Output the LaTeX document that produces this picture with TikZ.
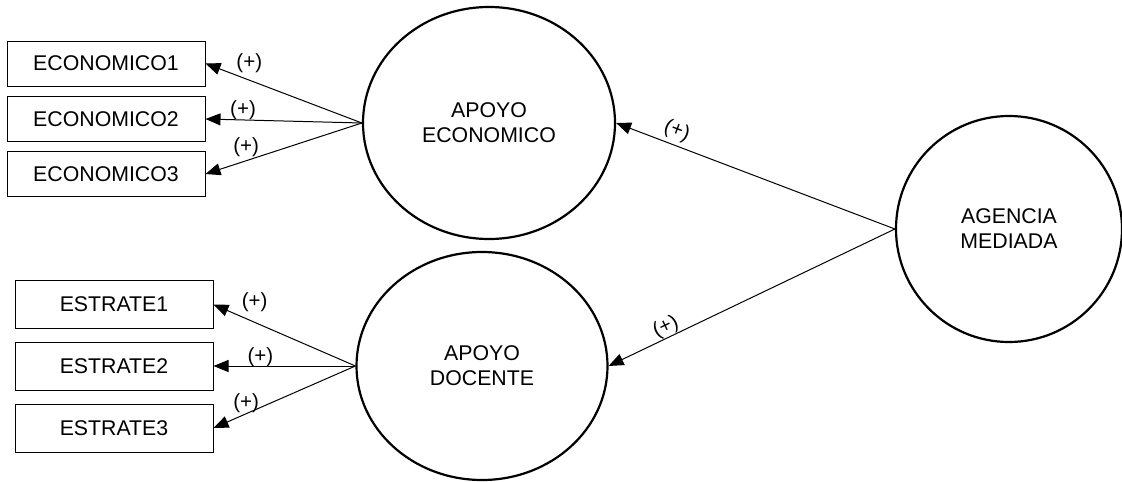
\documentclass[tikz,border=0pt]{standalone}
\usepackage{fontspec}
\setmainfont{Liberation Sans}
\usetikzlibrary{arrows.meta,shapes.geometric}
\begin{document}
\begin{tikzpicture}[x=1pt,y=-1pt,
  ind/.style={draw,line width=1pt,minimum width=198pt,minimum height=45pt,inner sep=0pt,font=\fontsize{21.3}{24}\selectfont},
  lat/.style={draw,ellipse,line width=2.2pt,inner sep=0pt,align=center,font=\fontsize{21.3}{25}\selectfont},
  conn/.style={line width=1pt,-{Triangle[length=15pt,width=12pt]}},
  lbl/.style={font=\fontsize{20.5}{24}\selectfont,inner sep=0pt}]
\useasboundingbox (0,0) rectangle (1122,482);
\node[ind] (e1) at (106,63.5) {ECONOMICO1};
\node[ind] (e2) at (106,119) {ECONOMICO2};
\node[ind] (e3) at (106,174) {ECONOMICO3};
\node[ind,minimum height=48pt] (s1) at (114,304.5) {ESTRATE1};
\node[ind,minimum height=48pt] (s2) at (114,366) {ESTRATE2};
\node[ind,minimum height=48pt] (s3) at (114,428) {ESTRATE3};
\node[lat,minimum width=252pt,minimum height=232pt] (ae) at (489,123) {APOYO\\ECONOMICO};
\node[lat,minimum width=251pt,minimum height=228pt] (ad) at (482,366) {APOYO\\DOCENTE};
\node[lat,minimum size=226pt] (am) at (1009,229) {AGENCIA\\MEDIADA};
\draw[conn] (ae.west) -- (e1.east) node[lbl,pos=0.72,yshift=16.5pt] {(+)};
\draw[conn] (ae.west) -- (e2.east) node[lbl,pos=0.76,yshift=10pt] {(+)};
\draw[conn] (ae.west) -- (e3.east) node[lbl,pos=0.74,yshift=14pt] {(+)};
\draw[conn] (ad.west) -- (s1.east) node[lbl,pos=0.71,yshift=20pt] {(+)};
\draw[conn] (ad.west) -- (s2.east) node[lbl,pos=0.67,yshift=8.5pt] {(+)};
\draw[conn] (ad.west) -- (s3.east) node[lbl,pos=0.77,yshift=11pt] {(+)};
\draw[conn] (am.west) -- (ae.east) node[lbl,pos=0.80,sloped,anchor=south,inner sep=4pt] {(+)};
\draw[conn] (am.west) -- (ad.east) node[lbl,pos=0.785,sloped,anchor=south,inner sep=0pt] {(+)};
\end{tikzpicture}
\end{document}
